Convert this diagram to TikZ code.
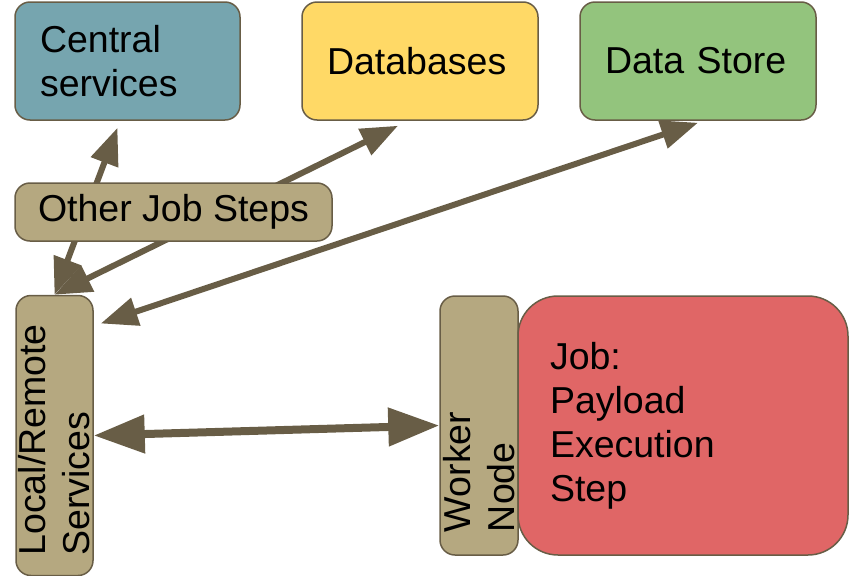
\documentclass[tikz,border=0pt]{standalone}
\usepackage{fontspec}
\setmainfont{Liberation Sans}
\usetikzlibrary{arrows.meta}
\definecolor{linkbrown}{HTML}{685D46}
\definecolor{centralteal}{HTML}{76A5AF}
\definecolor{dbyellow}{HTML}{FFD966}
\definecolor{storegreen}{HTML}{93C47D}
\definecolor{jobred}{HTML}{E06666}
\definecolor{steptan}{HTML}{B5A880}
\tikzset{
  box/.style={draw=linkbrown, line width=1.5pt, rounded corners=15pt, align=left,
    inner ysep=0pt, font=\fontsize{37.5pt}{44pt}\selectfont},
  topbox/.style={box, text width=#1, inner xsep=25pt, minimum height=118pt},
  link/.style={linkbrown, line width=6pt,
    {Triangle[length=37pt,width=28pt]}-{Triangle[length=37pt,width=28pt]}},
  biglink/.style={linkbrown, line width=8pt,
    {Triangle[length=51pt,width=37pt]}-{Triangle[length=51pt,width=37pt]}},
}
\begin{document}
\begin{tikzpicture}[x=1pt, y=-1pt]
  \useasboundingbox (0,0) rectangle (852,576);
  % Top row
  \node[topbox=175pt, fill=centralteal] (central) at (127.5,61) {Central\\services};
  \node[topbox=186pt, fill=dbyellow] (db) at (420,61) {Databases};
  \node[topbox=186pt, fill=storegreen] (store) at (698,61) {Data Store};
  % Bottom row (rotated: east = top, south = right, north = left)
  \node[box, fill=steptan, rotate=90, text width=240pt, inner xsep=20pt,
        minimum height=77pt] (local) at (54.5,435.5) {Local/Remote\\Services};
  \node[box, fill=steptan, rotate=90, text width=213pt, inner xsep=23pt,
        minimum height=78pt] (worker) at (479,425.5) {Worker\\Node};
  \node[box, fill=jobred, rounded corners=40pt, text width=266pt, inner xsep=32pt,
        minimum height=259pt] (job) at (683,425.5) {Job:\\Payload\\Execution\\Step};
  % Links
  \draw[link] (local.east) -- ([xshift=-10pt,yshift=-7pt]central.south);
  \draw[link] (local.east) -- ([xshift=-22pt,yshift=-5pt]db.south);
  \draw[link] ([xshift=7pt,yshift=112pt]local.south) -- ([yshift=-2pt]store.south);
  \draw[biglink] (local.south) -- (worker.north);
  % Drawn last so that it covers the links
  \node[box, fill=steptan, align=center, minimum width=317pt,
        minimum height=58pt] (others) at (173.5,212) {Other Job Steps};
\end{tikzpicture}
\end{document}
